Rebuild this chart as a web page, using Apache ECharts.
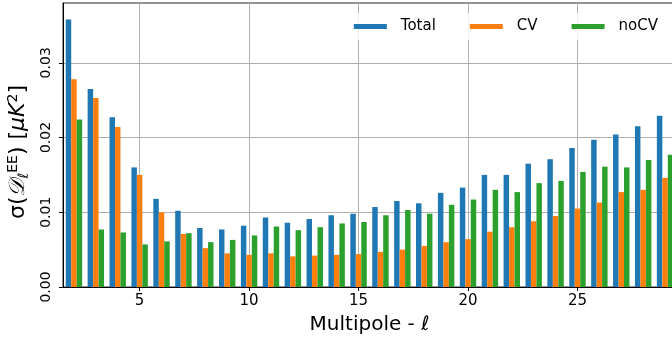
<!DOCTYPE html>
<html>
<head>
<meta charset="utf-8">
<script src="https://cdn.jsdelivr.net/npm/echarts@6/dist/echarts.min.js"></script>
<style>
  html, body { margin: 0; padding: 0; background: #fff; }
  #chart { width: 672px; height: 345px; }
</style>
</head>
<body>
<div id="chart"></div>
<script>
// Multipoles ell = 2 .. 29
const multipoles = [2, 3, 4, 5, 6, 7, 8, 9, 10, 11, 12, 13, 14, 15, 16, 17, 18, 19, 20, 21, 22, 23, 24, 25, 26, 27, 28, 29];

// sigma(D_ell^EE) in muK^2
const totalValues = [0.0358, 0.0265, 0.0227, 0.0160, 0.0118, 0.0102, 0.0079, 0.0077, 0.0082, 0.0093, 0.0086, 0.0091, 0.0096, 0.0098, 0.0107, 0.0115, 0.0112, 0.0126, 0.0133, 0.0150, 0.0150, 0.0165, 0.0171, 0.0186, 0.0197, 0.0204, 0.0215, 0.0229];
const cvValues = [0.0278, 0.0253, 0.0214, 0.0150, 0.0100, 0.0071, 0.0052, 0.0045, 0.0043, 0.0045, 0.0041, 0.0042, 0.0043, 0.0044, 0.0047, 0.0050, 0.0055, 0.0060, 0.0064, 0.0074, 0.0080, 0.0088, 0.0095, 0.0105, 0.0113, 0.0127, 0.0130, 0.0146];
const noCvValues = [0.0224, 0.0077, 0.0073, 0.0057, 0.0061, 0.0072, 0.0060, 0.0063, 0.0069, 0.0081, 0.0076, 0.0080, 0.0085, 0.0087, 0.0096, 0.0103, 0.0098, 0.0110, 0.0117, 0.0130, 0.0127, 0.0139, 0.0142, 0.0154, 0.0161, 0.0160, 0.0170, 0.0177];

const seriesNames = ['Total', 'CV', 'noCV'];
const seriesColors = ['#1f77b4', '#ff7f0e', '#2ca02c'];

const xTickValues = [5, 10, 15, 20, 25];
const yTickValues = [0, 0.01, 0.02, 0.03];

const FONT = 'DejaVu Sans';

function pairs(values) {
  return multipoles.map((l, i) => [l, values[i]]);
}

const chart = echarts.init(document.getElementById('chart'), null, { renderer: 'canvas' });

const barSeries = [totalValues, cvValues, noCvValues].map((vals, k) => ({
  name: seriesNames[k],
  type: 'bar',
  data: pairs(vals),
  barWidth: '25%',
  barGap: '0%',
  itemStyle: { color: seriesColors[k] },
  emphasis: { disabled: true },
  animation: false
}));

chart.setOption({
  animation: false,
  grid: {
    left: 63,
    right: -4,
    top: 3,
    bottom: 58,
    outerBoundsMode: 'none',
    containLabel: false,
    show: true,
    borderColor: '#262626',
    borderWidth: 1,
    backgroundColor: 'transparent'
  },
  legend: {
    data: seriesNames.map((n, k) => ({ name: n, itemStyle: { color: seriesColors[k] } })),
    right: 4,
    top: 13,
    icon: 'rect',
    itemWidth: 33,
    itemHeight: 5,
    itemGap: 34,
    padding: [6, 10, 6, 8],
    backgroundColor: 'rgba(255,255,255,0.8)',
    textStyle: { fontFamily: FONT, fontSize: 15, color: '#000', padding: [0, 0, 0, 9] }
  },
  xAxis: {
    type: 'value',
    min: 1.5,
    max: 29.5,
    splitNumber: 5,
    name: 'Multipole - ℓ',
    nameLocation: 'middle',
    nameGap: 28,
    nameTextStyle: { fontFamily: FONT, fontSize: 20, color: '#000' },
    axisLine: { show: true, onZero: false, lineStyle: { color: '#000', width: 1 } },
    axisTick: { show: true, customValues: xTickValues, length: 4, lineStyle: { color: '#000' } },
    axisLabel: {
      customValues: xTickValues,
      fontFamily: FONT, fontSize: 15, color: '#000', margin: 7,
      formatter: v => String(v)
    },
    splitLine: { show: true, customValues: xTickValues, lineStyle: { color: '#b0b0b0', width: 1 } }
  },
  yAxis: {
    type: 'value',
    min: 0,
    max: 0.038,
    name: '{s|σ(}{d|𝒟}{sub|ℓ}{sup|EE}{s|) [}{i|μK}{sup|2}{s|]}',
    nameLocation: 'middle',
    nameRotate: 90,
    nameGap: 31,
    nameTextStyle: {
      fontFamily: FONT, fontSize: 22, color: '#000',
      padding: [0, 14, 0, 0],
      rich: {
        s: { fontFamily: FONT, fontSize: 22, color: '#000' },
        d: { fontFamily: FONT, fontSize: 22, color: '#000', fontStyle: 'italic' },
        i: { fontFamily: FONT, fontSize: 22, color: '#000', fontStyle: 'italic' },
        sub: { fontFamily: FONT, fontSize: 14, color: '#000', fontStyle: 'italic', verticalAlign: 'bottom', padding: [11, 0, 0, 0] },
        sup: { fontFamily: FONT, fontSize: 14, color: '#000', verticalAlign: 'top', padding: [0, 0, 11, 0] }
      }
    },
    axisLine: { show: true, lineStyle: { color: '#000', width: 1 } },
    axisTick: { show: true, customValues: yTickValues, length: 4, lineStyle: { color: '#000' } },
    axisLabel: {
      customValues: yTickValues,
      rotate: 90,
      fontFamily: FONT, fontSize: 14, color: '#000', margin: 10,
      formatter: v => v.toFixed(2)
    },
    splitLine: { show: true, customValues: yTickValues, lineStyle: { color: '#b0b0b0', width: 1 } }
  },
  series: barSeries
});
</script>
</body>
</html>
